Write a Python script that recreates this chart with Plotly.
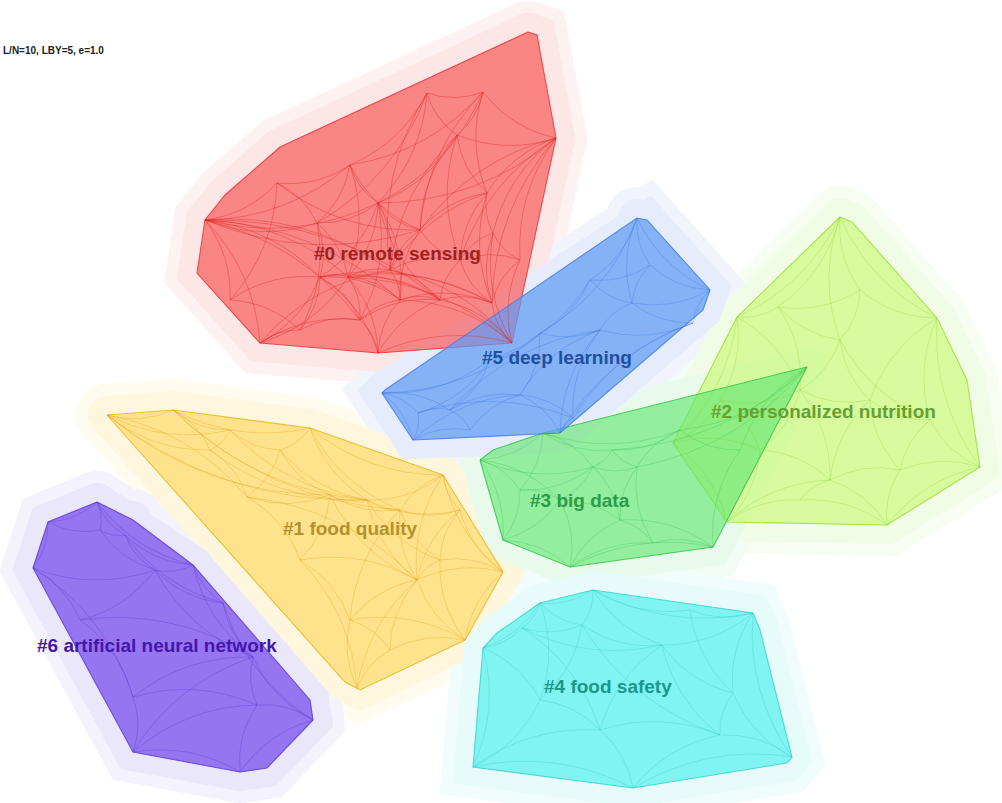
import plotly.graph_objects as go

# ---- cluster definitions (layout coordinates, y grows downward) ----
cluster_labels = ["#0 remote sensing", "#1 food quality", "#2 personalized nutrition",
                  "#3 big data", "#4 food safety", "#5 deep learning",
                  "#6 artificial neural network"]
label_x = [397, 350, 823, 580, 608, 557, 157]
label_y = [253, 528, 411, 500, 686, 357, 645]

# hull outlines
hull_x_0 = [528, 537, 556, 512, 378, 260, 197, 205, 225, 280]
hull_y_0 = [32, 35, 138, 343, 353, 343, 273, 220, 195, 147]
hull_x_1 = [107, 173, 310, 443, 503, 465, 360, 345]
hull_y_1 = [415, 410, 428, 475, 572, 640, 690, 682]
hull_x_2 = [840, 852, 937, 967, 980, 887, 727, 673, 737]
hull_y_2 = [217, 222, 318, 380, 467, 525, 522, 443, 317]
hull_x_3 = [480, 493, 543, 807, 713, 570, 503]
hull_y_3 = [460, 450, 433, 367, 547, 567, 540]
hull_x_4 = [540, 593, 753, 760, 792, 787, 633, 473, 483, 497]
hull_y_4 = [603, 590, 613, 630, 757, 763, 788, 767, 648, 633]
hull_x_5 = [385, 637, 647, 710, 703, 560, 413, 382]
hull_y_5 = [390, 218, 220, 290, 310, 433, 440, 393]
hull_x_6 = [97, 48, 33, 133, 240, 267, 313, 310, 193, 133]
hull_y_6 = [502, 522, 568, 752, 772, 768, 720, 700, 565, 520]

# node positions
nodes_x_0 = [205, 556, 512, 260, 378, 483, 427, 457, 350, 378, 487, 317, 320,
             348, 360, 492, 440, 400, 277, 493, 420, 230, 300, 520, 460, 390]
nodes_y_0 = [220, 138, 343, 343, 353, 92, 93, 135, 165, 203, 193, 223, 277,
             277, 320, 303, 300, 300, 183, 233, 230, 300, 330, 260, 260, 270]
nodes_x_1 = [107, 173, 310, 443, 503, 465, 357, 417, 367, 330, 400, 247, 210,
             300, 350, 440, 460, 280, 390, 230]
nodes_y_1 = [415, 410, 428, 475, 572, 640, 688, 580, 500, 495, 510, 497, 450,
             560, 620, 560, 510, 450, 650, 430]
nodes_x_2 = [840, 937, 980, 887, 727, 673, 737, 778, 840, 870, 800, 760, 900,
             830, 930, 860, 720, 800]
nodes_y_2 = [217, 318, 467, 525, 522, 443, 317, 307, 340, 400, 390, 450, 470,
             480, 420, 290, 400, 500]
nodes_x_3 = [480, 807, 713, 570, 503, 543, 593, 637, 612, 653, 560, 520, 680,
             740, 620]
nodes_y_3 = [460, 367, 547, 567, 540, 433, 467, 467, 450, 543, 500, 490, 430,
             450, 520]
nodes_x_4 = [540, 593, 753, 792, 633, 473, 483, 522, 582, 662, 733, 720, 600,
             540, 690]
nodes_y_4 = [603, 590, 613, 757, 788, 767, 648, 628, 625, 645, 693, 735, 730,
             700, 610]
nodes_x_5 = [382, 637, 710, 693, 560, 413, 418, 450, 540, 632, 600, 573, 490,
             520, 650, 470, 590]
nodes_y_5 = [393, 218, 290, 323, 433, 440, 413, 410, 333, 303, 330, 418, 360,
             395, 265, 430, 280]
nodes_x_6 = [97, 48, 33, 133, 240, 313, 193, 125, 253, 133, 257, 223, 100, 155, 80]
nodes_y_6 = [502, 522, 568, 752, 772, 720, 565, 535, 657, 697, 705, 603, 530, 570, 620]

# co-citation links (node index pairs)
edges_0 = [(0, 9), (0, 11), (0, 12), (0, 13), (0, 18), (0, 8), (0, 20), (0, 17), (0, 3), (0, 21),
           (0, 25), (0, 16), (0, 14),
           (1, 5), (1, 10), (1, 19), (1, 7), (1, 23), (1, 15), (1, 24), (1, 20), (1, 9),
           (2, 15), (2, 16), (2, 23), (2, 4), (2, 17), (2, 19), (2, 25), (2, 13),
           (3, 12), (3, 14), (3, 22), (3, 13), (3, 25), (4, 14), (4, 17), (4, 16), (4, 13), (4, 12),
           (5, 6), (5, 7), (5, 10), (5, 8), (5, 20), (5, 9), (6, 8), (6, 7), (6, 9), (6, 25), (6, 11),
           (7, 9), (7, 10), (7, 24), (7, 20), (7, 25), (8, 9), (8, 11), (8, 18), (8, 13), (8, 20),
           (9, 11), (9, 12), (9, 13), (9, 20), (9, 25), (9, 16), (9, 17), (9, 14),
           (10, 19), (10, 20), (10, 24), (10, 15), (10, 25), (11, 12), (11, 18), (11, 22), (11, 13),
           (12, 13), (12, 14), (12, 17), (12, 21), (12, 22), (12, 16), (12, 15),
           (13, 17), (13, 25), (13, 14), (13, 16), (13, 15),
           (14, 17), (14, 22), (14, 16), (15, 16), (15, 19), (15, 24), (15, 23), (15, 17),
           (16, 17), (16, 24), (16, 25), (17, 25), (19, 23), (19, 24), (20, 24), (20, 25),
           (21, 22), (23, 24), (24, 25), (18, 21), (18, 20), (20, 17)]
edges_1 = [(0, 1), (0, 19), (0, 12), (0, 11), (0, 9), (1, 19), (1, 2), (1, 12), (1, 8), (2, 17),
           (2, 8), (2, 3), (2, 10), (3, 16), (3, 10), (3, 7), (3, 4), (4, 7), (4, 15), (4, 5),
           (5, 14), (5, 18), (5, 7), (5, 15), (6, 18), (6, 14), (6, 13), (7, 10), (7, 15), (7, 16),
           (7, 14), (7, 8), (7, 9), (7, 13), (7, 18), (8, 10), (8, 9), (8, 17), (8, 16), (9, 11),
           (9, 13), (9, 17), (10, 16), (10, 15), (11, 12), (11, 13), (11, 17), (12, 19), (13, 14),
           (14, 18), (15, 16), (17, 19), (8, 15), (9, 10), (7, 11), (10, 14), (3, 8),
           (0, 8), (1, 10), (12, 8), (19, 8), (4, 16), (6, 7)]
edges_2 = [(0, 15), (0, 7), (0, 6), (0, 8), (0, 1), (1, 15), (1, 14), (1, 9), (1, 2), (2, 14),
           (2, 12), (2, 3), (3, 12), (3, 13), (3, 17), (4, 17), (4, 11), (4, 5), (4, 13), (5, 16),
           (5, 11), (5, 6), (6, 7), (6, 16), (6, 10), (7, 8), (7, 10), (7, 15), (8, 9), (8, 10),
           (8, 15), (9, 10), (9, 12), (9, 14), (9, 13), (10, 11), (10, 13), (11, 13), (11, 16),
           (12, 13), (12, 14), (13, 17), (10, 16), (8, 14)]
edges_3 = [(0, 5), (0, 11), (0, 4), (0, 6), (0, 10), (1, 12), (1, 13), (1, 7), (1, 8), (2, 9),
           (2, 13), (2, 14), (2, 3), (3, 9), (3, 10), (3, 4), (3, 14), (4, 11), (4, 10), (5, 8),
           (5, 6), (5, 11), (6, 7), (6, 8), (6, 10), (6, 14), (7, 8), (7, 12), (7, 9), (7, 14),
           (8, 12), (9, 14), (10, 11), (10, 14), (12, 13), (6, 11), (5, 12)]
edges_4 = [(0, 1), (0, 7), (0, 8), (0, 6), (0, 13), (1, 8), (1, 14), (1, 9), (1, 2), (2, 14),
           (2, 10), (2, 3), (2, 9), (3, 11), (3, 10), (3, 4), (4, 12), (4, 11), (4, 5), (5, 13),
           (5, 6), (5, 12), (6, 7), (6, 13), (7, 8), (7, 12), (8, 9), (8, 13), (9, 10), (9, 11),
           (9, 12), (10, 11), (11, 12), (12, 13), (14, 10), (8, 11), (7, 9)]
edges_5 = [(0, 6), (0, 7), (0, 12), (0, 8), (0, 5), (1, 14), (1, 16), (1, 9), (1, 8), (1, 2),
           (2, 3), (2, 14), (2, 9), (3, 9), (3, 10), (3, 4), (3, 11), (4, 11), (4, 13), (4, 10),
           (5, 6), (5, 15), (5, 13), (6, 7), (6, 12), (7, 12), (7, 13), (7, 15), (8, 12), (8, 10),
           (8, 16), (8, 13), (9, 10), (9, 16), (10, 11), (10, 13), (11, 13), (12, 16), (13, 15),
           (14, 16), (9, 14), (7, 10), (6, 11)]
edges_6 = [(0, 7), (0, 12), (0, 1), (0, 6), (1, 2), (1, 12), (2, 14), (2, 9), (2, 13), (3, 9),
           (3, 4), (3, 10), (3, 8), (4, 10), (4, 5), (5, 8), (5, 10), (5, 11), (6, 7), (6, 11),
           (6, 13), (6, 8), (7, 12), (7, 13), (8, 10), (8, 11), (8, 9), (8, 13), (8, 14), (9, 14),
           (9, 10), (11, 13), (12, 13), (13, 14), (7, 11)]

# ---- colour styles per cluster ----
fill_colors = ["rgba(250,95,95,0.72)", "rgba(255,215,90,0.62)", "rgba(200,250,110,0.62)",
               "rgba(95,230,110,0.62)", "rgba(80,240,235,0.68)", "rgba(95,155,245,0.72)",
               "rgba(125,85,238,0.78)"]
edge_line_colors = ["rgba(235,60,60,0.9)", "rgba(235,185,40,0.9)", "rgba(160,225,60,0.9)",
                    "rgba(60,200,80,0.9)", "rgba(60,215,210,0.9)", "rgba(70,130,230,0.9)",
                    "rgba(100,65,220,0.9)"]
halo_outer = ["#fef1f1", "#fffbee", "#f7fdf1", "#f1fcf4", "#f1fdfc", "#f1f4fd", "#f4f2fd"]
halo_inner = ["#fce6e6", "#fff6de", "#f0fce6", "#e7faec", "#e6fbfa", "#e6ecfb", "#ebe7fb"]
link_colors = ["rgba(225,30,30,0.45)", "rgba(225,160,20,0.40)", "rgba(130,200,40,0.32)",
               "rgba(40,180,70,0.32)", "rgba(40,190,190,0.32)", "rgba(50,110,220,0.36)",
               "rgba(80,50,200,0.38)"]
label_colors = ["#9e2222", "#b4912c", "#67a030", "#2c9c46", "#1c978b", "#20509c", "#4416ac"]

hulls = [(hull_x_0, hull_y_0), (hull_x_1, hull_y_1), (hull_x_2, hull_y_2), (hull_x_3, hull_y_3),
         (hull_x_4, hull_y_4), (hull_x_5, hull_y_5), (hull_x_6, hull_y_6)]
nodes = [(nodes_x_0, nodes_y_0), (nodes_x_1, nodes_y_1), (nodes_x_2, nodes_y_2),
         (nodes_x_3, nodes_y_3), (nodes_x_4, nodes_y_4), (nodes_x_5, nodes_y_5),
         (nodes_x_6, nodes_y_6)]
edges = [edges_0, edges_1, edges_2, edges_3, edges_4, edges_5, edges_6]

ARC_BEND = 0.18   # how far an arc bows away from the straight chord


def closed(xs, ys):
    return list(xs) + [xs[0]], list(ys) + [ys[0]]


def arc_path(x0, y0, x1, y1, gx, gy):
    """Quadratic-Bezier SVG path that bows toward the cluster centre (gx, gy)."""
    mx, my = (x0 + x1) / 2, (y0 + y1) / 2
    dx, dy = x1 - x0, y1 - y0
    px, py = -dy * ARC_BEND, dx * ARC_BEND
    if (gx - mx) * px + (gy - my) * py < 0:
        px, py = -px, -py
    return f"M {x0},{y0} Q {mx + px:.1f},{my + py:.1f} {x1},{y1}"


fig = go.Figure()

# soft halos behind every cluster
for width, colors in ((62, halo_outer), (38, halo_inner)):
    for i, (hx, hy) in enumerate(hulls):
        cx, cy = closed(hx, hy)
        fig.add_trace(go.Scatter(
            x=cx, y=cy, mode="lines+markers", fill="toself",
            fillcolor=colors[i],
            line=dict(color=colors[i], width=width),
            marker=dict(size=width, color=colors[i]),
            hoverinfo="skip"))

# cluster hulls
for i, (hx, hy) in enumerate(hulls):
    cx, cy = closed(hx, hy)
    fig.add_trace(go.Scatter(
        x=cx, y=cy, mode="lines", fill="toself", fillcolor=fill_colors[i],
        line=dict(color=edge_line_colors[i], width=1.1), hoverinfo="skip"))

# curved internal links of each cluster
shapes = []
for i, pairs in enumerate(edges):
    nx, ny = nodes[i]
    gx, gy = sum(nx) / len(nx), sum(ny) / len(ny)
    for a, b in pairs:
        shapes.append(dict(type="path", xref="x", yref="y", layer="above",
                           path=arc_path(nx[a], ny[a], nx[b], ny[b], gx, gy),
                           line=dict(color=link_colors[i], width=0.8)))

# cluster labels
for i, text in enumerate(cluster_labels):
    fig.add_annotation(x=label_x[i], y=label_y[i], text=text, showarrow=False,
                       xanchor="center", yanchor="middle",
                       font=dict(family="Liberation Sans, Arial, sans-serif", size=19,
                                 color=label_colors[i], weight="bold"))

# parameter line in the corner
fig.add_annotation(x=1, y=50, text="L/N=10, LBY=5, e=1.0", showarrow=False,
                   xanchor="left", yanchor="middle",
                   font=dict(family="Liberation Sans, Arial, sans-serif", size=10,
                             color="#222222", weight="bold"))

fig.update_layout(
    width=1002, height=803, margin=dict(l=0, r=0, t=0, b=0),
    paper_bgcolor="white", plot_bgcolor="white", showlegend=False,
    shapes=shapes,
    xaxis=dict(range=[0, 1002], visible=False, fixedrange=True),
    yaxis=dict(range=[803, 0], visible=False, fixedrange=True),
)

fig.write_html("out.html")
